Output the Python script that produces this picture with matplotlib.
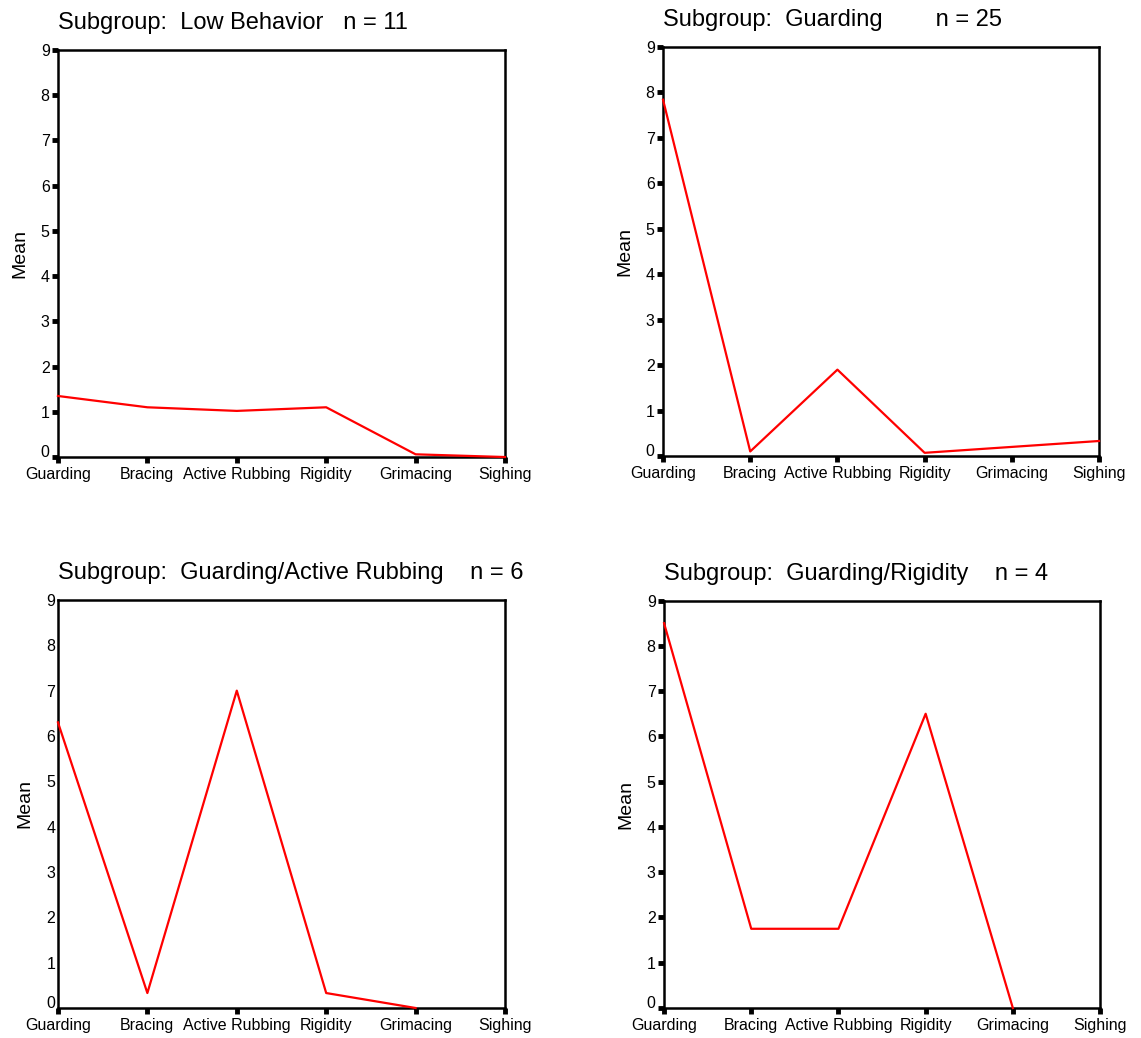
import numpy as np
import matplotlib.pyplot as plt
from matplotlib.transforms import ScaledTranslation

plt.rcParams["font.family"] = ["Liberation Sans", "DejaVu Sans"]

categories = ["Guarding", "Bracing", "Active Rubbing", "Rigidity", "Grimacing", "Sighing"]

titles = [
    "Subgroup:  Low Behavior   n = 11",
    "Subgroup:  Guarding        n = 25",
    "Subgroup:  Guarding/Active Rubbing    n = 6",
    "Subgroup:  Guarding/Rigidity    n = 4",
]

low_behavior = [1.35, 1.1, 1.02, 1.1, 0.06, 0.0]
guarding = [7.84, 0.1, 1.9, 0.07, 0.2, 0.33]
guarding_active = [6.3, 0.33, 7.0, 0.33, 0.0, np.nan]
guarding_rigidity = [8.5, 1.75, 1.75, 6.5, 0.0, np.nan]

series = [low_behavior, guarding, guarding_active, guarding_rigidity]
show_yticks = [True, True, False, True]

# axes boxes in figure fractions [left, bottom, width, height]
boxes = [
    [0.0508, 0.5597, 0.3918, 0.3921],
    [0.5811, 0.5607, 0.3821, 0.3940],
    [0.0508, 0.0289, 0.3918, 0.3931],
    [0.5820, 0.0289, 0.3821, 0.3925],
]

fig = plt.figure(figsize=(11.41, 10.38), dpi=100)

for box, title, values, yt in zip(boxes, titles, series, show_yticks):
    ax = fig.add_axes(box)
    x = np.arange(len(categories))
    ax.plot(x, values, color="red", linewidth=1.6, clip_on=False, zorder=3)
    ax.set_xlim(0, len(categories) - 1)
    ax.set_ylim(0, 9)
    ax.set_xticks(x, categories)
    ax.set_yticks(np.arange(10))
    ax.tick_params(axis="both", direction="out", length=4, width=3.5,
                   labelsize=11.5, pad=3)
    ax.tick_params(axis="y", pad=2, length=4 if yt else 0)
    for s in ax.spines.values():
        s.set_linewidth(1.8)
    # nudge the "0" label up off the x axis, as in the original
    fig.canvas.draw()
    lab0 = ax.get_yticklabels()[0]
    lab0.set_transform(lab0.get_transform() + ScaledTranslation(0, 6 / 100, fig.dpi_scale_trans))
    ax.set_ylabel("Mean", fontsize=14, labelpad=9)
    ax.set_title(title, fontsize=17, loc="left", x=0.0, pad=15)

fig.savefig("out.png", dpi=100)
